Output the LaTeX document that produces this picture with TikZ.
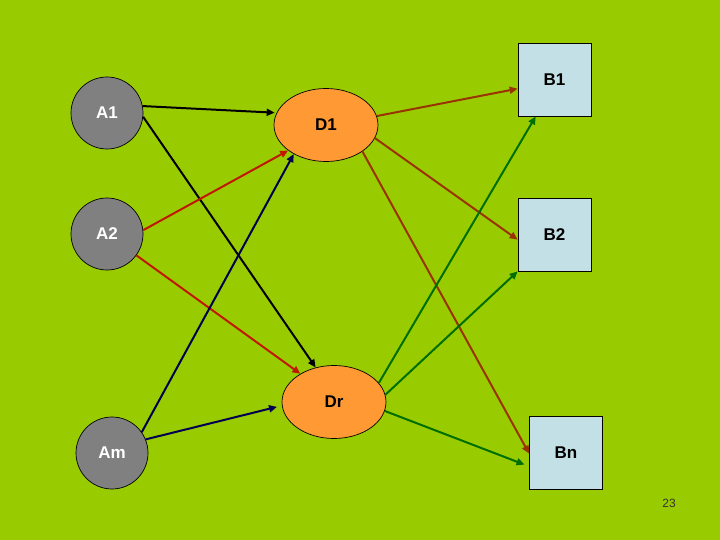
\documentclass[tikz,border=0pt]{standalone}
\usepackage{fontspec}
\setmainfont{Liberation Sans}
\usetikzlibrary{shapes.geometric,arrows.meta}
\definecolor{bggreen}{HTML}{99CC00}
\definecolor{srcgray}{HTML}{808080}
\definecolor{midorange}{HTML}{FF9933}
\definecolor{boxblue}{HTML}{C2E0E6}
\definecolor{arrnavy}{HTML}{000050}
\definecolor{arrred}{HTML}{C01800}
\definecolor{arrbrown}{HTML}{993300}
\definecolor{arrgreen}{HTML}{006E00}
\tikzset{
  src/.style={circle,draw=black,line width=0.7pt,fill=srcgray,minimum size=72pt,
    inner sep=0pt,text=white,font=\bfseries\fontsize{17}{19}\selectfont},
  mid/.style={ellipse,draw=black,line width=0.7pt,fill=midorange,minimum width=104pt,
    minimum height=73pt,inner sep=0pt,font=\bfseries\fontsize{17}{19}\selectfont},
  dst/.style={rectangle,draw=black,line width=0.7pt,fill=boxblue,minimum size=73pt,
    inner sep=0pt,font=\bfseries\fontsize{17}{19}\selectfont},
  link/.style={line width=2pt,-{Triangle[length=8pt,width=7pt]}}
}
\begin{document}
\begin{tikzpicture}[x=1pt,y=-1pt]
        \useasboundingbox (0,0) rectangle (720,540);
        \fill[bggreen] (0,0) rectangle (720,540);

        % Nodes
        \node[src] (A1) at (107,113) {A1};
        \node[src] (A2) at (107,234) {A2};
        \node[src] (Am) at (112,453) {Am};
        \node[mid] (D1) at (326,125) {D1};
        \node[mid] (Dr) at (334,402) {Dr};
        \node[dst] (B1) at (554.5,79.5) {B1};
        \node[dst] (B2) at (554.5,234.5) {B2};
        \node[dst] (Bn) at (566,453) {Bn};
        \node[text=black!80,font=\fontsize{12}{14}\selectfont] (page) at (669,503) {23};

        % Arrows
        \draw[link,black] (A1.11) -- ([xshift=-2pt]D1.166);
        \draw[link,black] (A1.-6) -- (Dr.118);
        \draw[link,arrred] (A2.6) -- (D1.214);
        \draw[link,arrred] (A2.-36) -- (Dr.140);
        \draw[link,arrnavy] (Am.35) -- (D1.222);
        \draw[link,arrnavy,shorten >=5pt] (Am.22) -- (Dr.184);
        \draw[link,arrbrown] (D1.10) -- (B1.194.6);
        \draw[link,arrbrown] (D1.-15) -- (B2.188.6);
        \draw[link,arrbrown] (D1.-36.6) -- (Bn.181.6);
        \draw[link,arrgreen] (Dr.23.8) -- (B1.243.7);
        \draw[link,arrgreen] (Dr.8.4) -- (B2.south west);
        \draw[link,arrgreen,shorten >=5pt] (Dr.-10.5) -- (Bn.200);
\end{tikzpicture}
\end{document}
